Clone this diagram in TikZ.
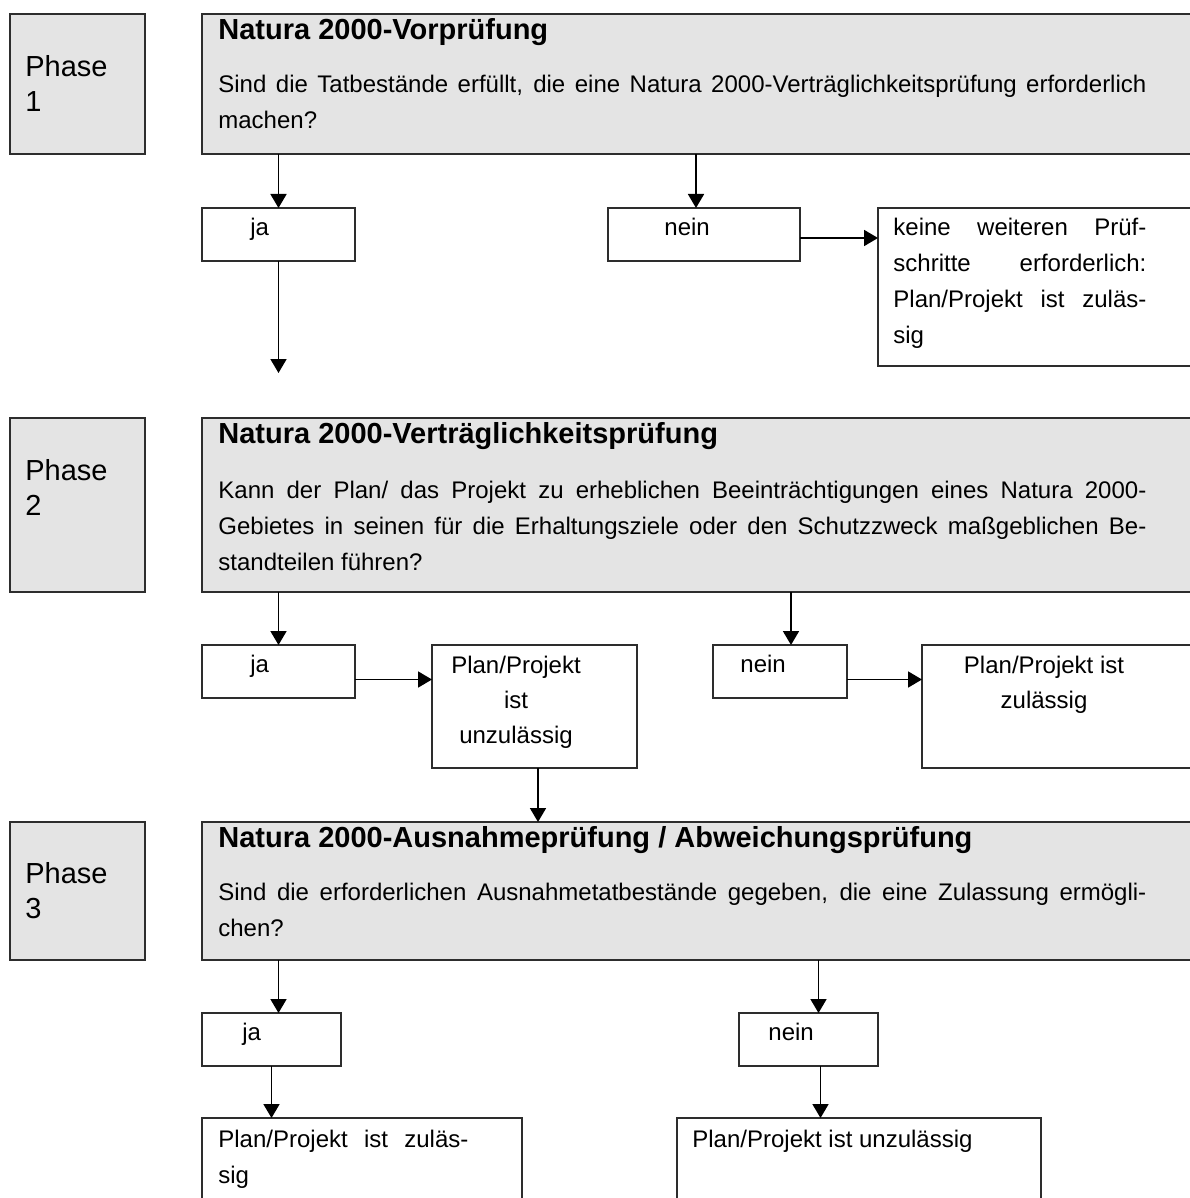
\documentclass[tikz,border=0pt]{standalone}
\usepackage{fontspec}
\setmainfont{Liberation Sans}
\usetikzlibrary{arrows.meta}
\definecolor{boxgray}{RGB}{228,228,228}
\definecolor{linegray}{RGB}{45,45,45}
\tolerance=10000
\hbadness=10000

\begin{document}
\begin{tikzpicture}[x=0.5pt,y=-0.5pt,
    >={Triangle[length=7pt,width=8pt]},
    box/.style={draw=linegray,line width=0.8pt,anchor=north west,inner sep=0pt,outer sep=0pt},
    phasebox/.style={box,fill=boxgray,minimum width=67.5pt},
    graybox/.style={box,fill=boxgray,minimum width=500pt},
    whitebox/.style={box,fill=white},
    phasetext/.style={anchor=base west,align=left,inner sep=0pt,font=\fontsize{14.5}{17.5}\selectfont},
    titletext/.style={anchor=base west,inner sep=0pt,font=\fontsize{14.5}{17}\selectfont\bfseries},
    bodytext/.style={anchor=base west,align=justify,inner sep=0pt,font=\fontsize{12}{18}\selectfont},
    labeltext/.style={anchor=base west,inner sep=0pt,font=\fontsize{12}{18}\selectfont},
    centertext/.style={anchor=base,align=center,inner sep=0pt,font=\fontsize{12}{17.5}\selectfont},
    arrow/.style={->,line width=0.9pt}]
\useasboundingbox (0,0) rectangle (1189,1198);

% phase 1
\node[phasebox,minimum height=70pt] (phA) at (10,14) {};
\node[graybox,minimum height=70pt] (vorpr) at (202,14) {};
\node[whitebox,minimum width=76.5pt,minimum height=26.5pt] (jaA) at (202,208) {};
\node[whitebox,minimum width=96pt,minimum height=26.5pt] (neinA) at (608,208) {};
\node[whitebox,minimum width=165pt,minimum height=79pt] (keineA) at (878,208) {};
\node[phasetext] (phAtext) at (25,112) {Phase\\1};
\node[titletext] (vorprtitle) at (218,40) {Natura 2000-Vorprüfung};
\node[bodytext,text width=464pt] (vorprtext) at (218,93) {Sind die Tatbestände erfüllt, die eine Natura 2000-Verträglichkeitsprüfung erforderlich\linebreak machen?};
\node[labeltext] (jaAtext) at (250,235) {ja};
\node[labeltext] (neinAtext) at (664,235) {nein};
\node[bodytext,text width=126.5pt] (keineAtext) at (893,235) {keine weiteren Prüf-\linebreak schritte erforderlich:\linebreak Plan/Projekt ist zuläs-\linebreak sig};
\coordinate (toB) at (278.5,373);

% phase 2
\node[phasebox,minimum height=87pt] (phB) at (10,418) {};
\node[graybox,minimum height=87pt] (vertr) at (202,418) {};
\node[whitebox,minimum width=76.5pt,minimum height=26.5pt] (jaB) at (202,645) {};
\node[whitebox,minimum width=102.5pt,minimum height=61.5pt] (unzB) at (432,645) {};
\node[whitebox,minimum width=67pt,minimum height=26.5pt] (neinB) at (713,645) {};
\node[whitebox,minimum width=145pt,minimum height=61.5pt] (zulB) at (922,645) {};
\node[phasetext] (phBtext) at (25,515) {Phase\\2};
\node[titletext] (vertrtitle) at (218,443) {Natura 2000-Verträglichkeitsprüfung};
\node[bodytext,text width=464pt] (vertrtext) at (218,498) {Kann der Plan/ das Projekt zu erheblichen Beeinträchtigungen eines Natura 2000-\linebreak Gebietes in seinen für die Erhaltungsziele oder den Schutzzweck maßgeblichen Be-\linebreak standteilen führen?};
\node[labeltext] (jaBtext) at (250,672) {ja};
\node[labeltext] (neinBtext) at (740,672) {nein};
\node[centertext] (unzBtext) at (516,743) {Plan/Projekt\\ist\\unzulässig};
\node[centertext] (zulBtext) at (1044,708) {Plan/Projekt ist\\zulässig};

% phase 3
\node[phasebox,minimum height=69pt] (phC) at (10,822) {};
\node[graybox,minimum height=69pt] (ausn) at (202,822) {};
\node[whitebox,minimum width=69.5pt,minimum height=26.5pt] (jaC) at (202,1013) {};
\node[whitebox,minimum width=69.5pt,minimum height=26.5pt] (neinC) at (739,1013) {};
\node[whitebox,minimum width=160pt,minimum height=50pt] (zulC) at (202,1118) {};
\node[whitebox,minimum width=182pt,minimum height=50pt] (unzC) at (677,1118) {};
\node[phasetext] (phCtext) at (25,918) {Phase\\3};
\node[titletext] (ausntitle) at (218,847) {Natura 2000-Ausnahmeprüfung / Abweichungsprüfung};
\node[bodytext,text width=464pt] (ausntext) at (218,900) {Sind die erforderlichen Ausnahmetatbestände gegeben, die eine Zulassung ermögli-\linebreak chen?};
\node[labeltext] (jaCtext) at (242,1040) {ja};
\node[labeltext] (neinCtext) at (768,1040) {nein};
\node[bodytext,text width=125pt] (zulCtext) at (218,1147) {Plan/Projekt ist zuläs-\linebreak sig};
\node[labeltext] (unzCtext) at (692,1147) {Plan/Projekt ist unzulässig};

\draw[arrow] (jaA.north |- vorpr.south) -- (jaA.north);
\draw[arrow] ([xshift=-4pt]neinA.north |- vorpr.south) -- ([xshift=-4pt]neinA.north);
\draw[arrow] (jaA.south) -- (toB);
\draw[arrow] ([yshift=-1.75pt]neinA.east) -- ([yshift=-1.75pt]neinA.east -| keineA.west);
\draw[arrow] (jaB.north |- vertr.south) -- (jaB.north);
\draw[arrow] ([xshift=5.5pt]neinB.north |- vertr.south) -- ([xshift=5.5pt]neinB.north);
\draw[arrow] ([yshift=-4pt]jaB.east) -- ([yshift=-4pt]jaB.east -| unzB.west);
\draw[arrow] ([yshift=-4pt]neinB.east) -- ([yshift=-4pt]neinB.east -| zulB.west);
\draw[arrow] ([xshift=1.75pt]unzB.south) -- ([xshift=1.75pt]unzB.south |- ausn.north);
\draw[arrow] ([xshift=3.5pt]jaC.north |- ausn.south) -- ([xshift=3.5pt]jaC.north);
\draw[arrow] (jaC.south) -- (jaC.south |- zulC.north);
\draw[arrow] ([xshift=5pt]neinC.north |- ausn.south) -- ([xshift=5pt]neinC.north);
\draw[arrow] ([xshift=6pt]neinC.south) -- ([xshift=6pt]neinC.south |- unzC.north);
\end{tikzpicture}
\end{document}
